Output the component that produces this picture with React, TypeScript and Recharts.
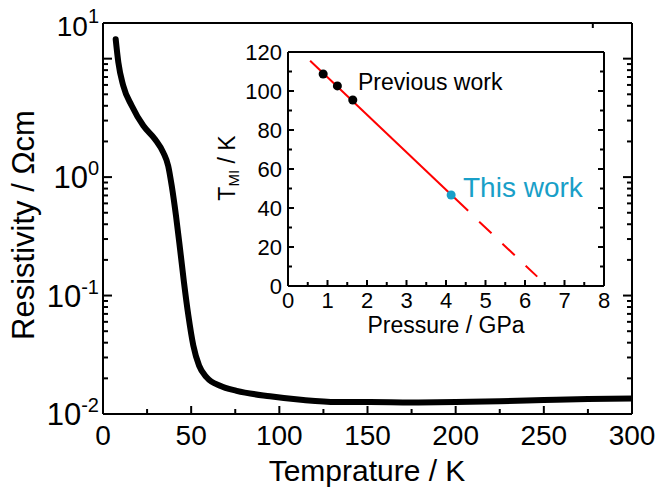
import { ComposedChart, Line, LineChart, Scatter, XAxis, YAxis } from 'recharts';

const FONT = '"Liberation Sans", Arial, Helvetica, sans-serif';

// main panel: resistivity vs temperature
const temperatureK = [7.2, 8.7, 11.5, 16.3, 22.9, 29.5, 34.2, 37.0, 39.0, 41.4, 43.7, 45.9, 48.4, 51.2, 54.5, 58.8, 66.4, 75.8, 94.7, 113.6, 132.5, 151.4, 175, 200, 225, 250, 275, 300];
const resistivityOhmCm = [14.6, 9.3, 5.9, 4.0, 2.71, 2.09, 1.61, 1.24, 0.84, 0.47, 0.247, 0.13, 0.068, 0.038, 0.0256, 0.0204, 0.0173, 0.0157, 0.0141, 0.0131, 0.0126, 0.0126, 0.0125, 0.0126, 0.0128, 0.0131, 0.0134, 0.0135];

const tempMajorTicks = [0, 50, 100, 150, 200, 250, 300];
const tempMinorTicks = [25, 75, 125, 175, 225, 275];
const rhoMajorTicks = [0.01, 0.1, 1, 10];
const rhoMinorTicks = [
  0.02, 0.03, 0.04, 0.05, 0.06, 0.07, 0.08, 0.09,
  0.2, 0.3, 0.4, 0.5, 0.6, 0.7, 0.8, 0.9,
  2, 3, 4, 5, 6, 7, 8, 9,
];

// inset: T_MI vs pressure
const previousPressure = [0.89, 1.25, 1.64];
const previousTmi = [108.7, 102.6, 95.4];
const thisPressure = [4.13];
const thisTmi = [46.7];
const fitSolidPressure = [0.56, 4.56];
const fitSolidTmi = [115.5, 38.6];
const fitDashPressure = [4.84, 6.31];
const fitDashTmi = [33.0, 4.8];

const pressureMajorTicks = [0, 1, 2, 3, 4, 5, 6, 7, 8];
const pressureMinorTicks = [0.5, 1.5, 2.5, 3.5, 4.5, 5.5, 6.5, 7.5];
const tmiMajorTicks = [0, 20, 40, 60, 80, 100, 120];
const tmiMinorTicks = [10, 30, 50, 70, 90, 110];

const curveRows = temperatureK.map((t, i) => ({ t, rho: resistivityOhmCm[i] }));
const toRows = (ps: number[], ts: number[]) => ps.map((p, i) => ({ p, tmi: ts[i] }));
const previousRows = toRows(previousPressure, previousTmi);
const thisRows = toRows(thisPressure, thisTmi);
const fitSolidRows = toRows(fitSolidPressure, fitSolidTmi);
const fitDashRows = toRows(fitDashPressure, fitDashTmi);

const sortNum = (a: number[], b: number[]) => [...a, ...b].sort((m, n) => m - n);

type Side = 'bottom' | 'top' | 'left' | 'right';

function tickRenderer(
  side: Side,
  majors: number[],
  majorLen: number,
  minorLen: number,
  label?: (v: number, x: number, y: number) => any,
) {
  return (props: any) => {
    const { x, y, payload } = props;
    const v = payload.value;
    const major = majors.includes(v);
    const len = major ? majorLen : minorLen;
    const dx = side === 'left' ? len : side === 'right' ? -len : 0;
    const dy = side === 'bottom' ? -len : side === 'top' ? len : 0;
    return (
      <g>
        <line x1={x} y1={y} x2={x + dx} y2={y + dy} stroke="#000" strokeWidth={2} />
        {major && label ? label(v, x, y) : null}
      </g>
    );
  };
}

const MAIN_TOP = 23;
const axisLine = { stroke: '#000', strokeWidth: 2 };

function MainChart() {
  return (
    <LineChart width={658} height={488} data={curveRows} margin={{ top: MAIN_TOP - 1, right: 25, bottom: 0, left: 8 }}>
      <XAxis
        xAxisId="bottom"
        dataKey="t"
        type="number"
        domain={[0, 300]}
        allowDataOverflow
        ticks={sortNum(tempMajorTicks, tempMinorTicks)}
        interval={0}
        height={74}
        tickSize={0}
        tickMargin={0}
        axisLine={axisLine}
        tickLine={false}
        tick={tickRenderer('bottom', tempMajorTicks, 8, 5, (v, x, y) => (
          <text x={x} y={y + 31} textAnchor="middle" fontSize={28} fontFamily={FONT} fill="#000">{v}</text>
        ))}
      />
      <XAxis
        xAxisId="top"
        orientation="top"
        type="number"
        domain={[0, 300]}
        allowDataOverflow
        ticks={sortNum(tempMajorTicks, tempMinorTicks)}
        interval={0}
        height={1}
        tickSize={0}
        tickMargin={0}
        axisLine={axisLine}
        tickLine={false}
        tick={tickRenderer('top', tempMajorTicks, 8, 5)}
      />
      <YAxis
        yAxisId="left"
        type="number"
        scale="log"
        domain={[0.01, 20]}
        allowDataOverflow
        ticks={sortNum(rhoMajorTicks, rhoMinorTicks)}
        interval={0}
        width={95}
        tickSize={0}
        tickMargin={0}
        axisLine={axisLine}
        tickLine={false}
        tick={tickRenderer('left', rhoMajorTicks, 9, 5, (v, x, y) => (
          <text x={x - 4} y={v === 10 ? MAIN_TOP + 13 : y + 11} textAnchor="end" fontSize={v === 10 ? 28 : 31} fontFamily={FONT} fill="#000">
            10<tspan dy={-13} fontSize={20}>{String(Math.round(Math.log10(v)))}</tspan>
          </text>
        ))}
      />
      <YAxis
        yAxisId="right"
        orientation="right"
        type="number"
        scale="log"
        domain={[0.01, 20]}
        allowDataOverflow
        ticks={sortNum(rhoMajorTicks, rhoMinorTicks)}
        interval={0}
        width={1}
        tickSize={0}
        tickMargin={0}
        axisLine={axisLine}
        tickLine={false}
        tick={tickRenderer('right', rhoMajorTicks, 9, 5)}
      />
      <Line
        xAxisId="bottom"
        yAxisId="left"
        type="monotone"
        dataKey="rho"
        stroke="#000"
        strokeWidth={6}
        strokeLinecap="round"
        dot={false}
        isAnimationActive={false}
      />
      <text x={367} y={481} textAnchor="middle" fontSize={30} fontFamily={FONT} fill="#000">Temprature / K</text>
      <text transform="translate(34, 225) rotate(-90)" textAnchor="middle" fontSize={31} fontFamily={FONT} fill="#000">Resistivity / Ωcm</text>
    </LineChart>
  );
}

function InsetChart() {
  return (
    <ComposedChart width={658} height={488} margin={{ top: 51, right: 53, bottom: 142, left: 238 }}>
      <XAxis
        xAxisId="bottom"
        dataKey="p"
        type="number"
        domain={[0, 8]}
        allowDataOverflow
        ticks={sortNum(pressureMajorTicks, pressureMinorTicks)}
        interval={0}
        height={60}
        tickSize={0}
        tickMargin={0}
        axisLine={axisLine}
        tickLine={false}
        tick={tickRenderer('bottom', pressureMajorTicks, 6, 4, (v, x, y) => (
          <text x={x} y={y + 22} textAnchor="middle" fontSize={22} fontFamily={FONT} fill="#000">{v}</text>
        ))}
      />
      <XAxis
        xAxisId="top"
        orientation="top"
        type="number"
        domain={[0, 8]}
        allowDataOverflow
        ticks={sortNum(pressureMajorTicks, pressureMinorTicks)}
        interval={0}
        height={1}
        tickSize={0}
        tickMargin={0}
        axisLine={axisLine}
        tickLine={false}
        tick={tickRenderer('top', pressureMajorTicks, 6, 4)}
      />
      <YAxis
        yAxisId="left"
        dataKey="tmi"
        type="number"
        domain={[0, 120]}
        allowDataOverflow
        ticks={sortNum(tmiMajorTicks, tmiMinorTicks)}
        interval={0}
        width={50}
        tickSize={0}
        tickMargin={0}
        axisLine={axisLine}
        tickLine={false}
        tick={tickRenderer('left', tmiMajorTicks, 6, 4, (v, x, y) => (
          <text x={x - 6} y={y + 8} textAnchor="end" fontSize={22} fontFamily={FONT} fill="#000">{v}</text>
        ))}
      />
      <YAxis
        yAxisId="right"
        orientation="right"
        type="number"
        domain={[0, 120]}
        allowDataOverflow
        ticks={sortNum(tmiMajorTicks, tmiMinorTicks)}
        interval={0}
        width={1}
        tickSize={0}
        tickMargin={0}
        axisLine={axisLine}
        tickLine={false}
        tick={tickRenderer('right', tmiMajorTicks, 6, 4)}
      />
      <Line xAxisId="bottom" yAxisId="left" data={fitSolidRows} dataKey="tmi" stroke="#ff0000" strokeWidth={2} dot={false} isAnimationActive={false} />
      <Line xAxisId="bottom" yAxisId="left" data={fitDashRows} dataKey="tmi" stroke="#ff0000" strokeWidth={2} strokeDasharray="17 15" dot={false} isAnimationActive={false} />
      <Scatter xAxisId="bottom" yAxisId="left" data={previousRows} dataKey="tmi" fill="#000" shape="circle" isAnimationActive={false} />
      <Scatter xAxisId="bottom" yAxisId="left" data={thisRows} dataKey="tmi" fill="#199fc8" shape="circle" isAnimationActive={false} />
      <text x={358} y={90} fontSize={23} fontFamily={FONT} fill="#000">Previous work</text>
      <text x={463} y={197} fontSize={28} fontFamily={FONT} fill="#199fc8">This work</text>
      <text x={446} y={333} textAnchor="middle" fontSize={23} fontFamily={FONT} fill="#000">Pressure / GPa</text>
      <text transform="translate(235, 168) rotate(-90)" textAnchor="middle" fontSize={23} fontFamily={FONT} fill="#000">
        T<tspan dy={4} fontSize={15}>MI</tspan><tspan dy={-4}> / K</tspan>
      </text>
    </ComposedChart>
  );
}

export default function App() {
  return (
    <div style={{ position: 'absolute', left: 0, top: 0, width: 658, height: 488, background: '#fff', fontFamily: FONT }}>
      <div style={{ position: 'absolute', left: 0, top: 0 }}>
        <MainChart />
      </div>
      <div style={{ position: 'absolute', left: 0, top: 0 }}>
        <InsetChart />
      </div>
    </div>
  );
}
